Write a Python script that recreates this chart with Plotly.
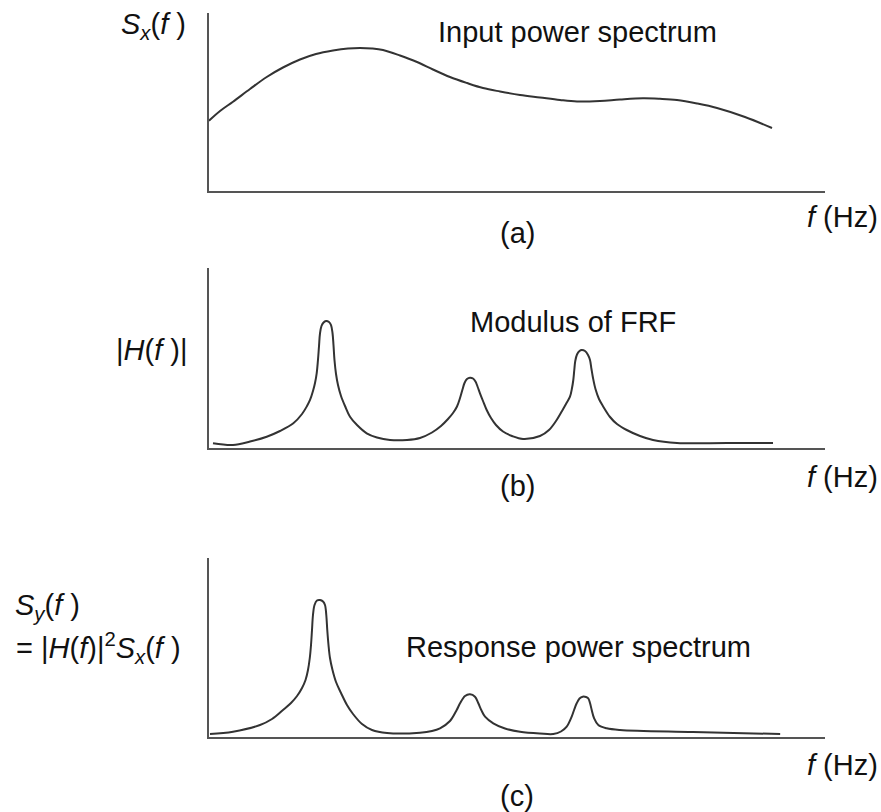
import plotly.graph_objects as go

W, H = 881, 812

# ---------------- data (arbitrary units, 0-100) ----------------
# (a) input power spectrum S_x(f)
f_input = [0, 1.79, 3.90, 6.66, 9.37, 12.01, 14.77, 17.37, 20.13, 22.56, 24.51, 26.46, 28.25, 31.01,
           33.77, 36.36, 39.12, 41.88, 44.48, 47.24, 50.49, 53.73, 56.98, 59.74, 63.47, 66.72, 70.45,
           73.21, 75.97, 79.22, 82.47, 87.01, 91.40]
s_input = [39.49, 44.94, 50.17, 57.30, 64.04, 69.38, 73.88, 76.97, 78.93, 80.06, 80.34, 80.06, 79.21, 76.12,
           72.47, 68.26, 64.04, 60.67, 57.87, 55.90, 53.93, 52.53, 51.12, 50.28, 50.56, 51.40, 52.08,
           51.80, 51.12, 49.16, 46.63, 41.57, 35.39]

# (b) modulus of FRF |H(f)|
f_frf = [0.65, 3.90, 6.66, 9.37, 11.53, 13.69, 15.10, 15.91, 16.40, 16.88, 17.21, 17.48, 17.69, 17.86,
         18.02, 18.26, 18.56, 18.99, 19.48, 19.81, 20.05, 20.21, 20.37, 20.62, 20.94, 21.43, 22.08,
         22.89, 24.03, 25.60, 27.27, 29.38, 32.14,
         34.25, 36.20, 37.66, 38.80, 39.61, 40.26, 40.75, 41.15, 41.48, 41.88, 42.37, 42.86, 43.26,
         43.59, 43.99, 44.48, 45.08, 45.78, 46.59, 47.73, 49.19, 50.97,
         53.73, 55.19, 56.44, 57.31, 57.95, 58.60, 58.93, 59.14, 59.30, 59.46, 59.74, 60.15, 60.50,
         61.04, 61.53, 61.85, 62.09, 62.34, 62.74, 63.31, 64.01, 65.10, 66.23, 67.81, 69.97, 72.08,
         75.97, 84.09, 91.56]
h_frf = [2.61, 1.67, 3.61, 6.28, 9.44, 13.72, 18.89, 23.33, 26.67, 31.67, 36.11, 41.50, 48.89, 56.67,
         63.72, 67.78, 69.61, 70.56, 70.00, 68.33, 63.89, 57.22, 48.89, 41.11, 35.00, 28.89, 23.33,
         17.39, 12.78, 8.17, 5.83, 4.44, 4.44,
         5.56, 8.61, 12.22, 16.11, 19.44, 23.06, 27.78, 32.50, 36.11, 38.33, 39.06, 38.61, 36.94,
         34.17, 30.39, 26.11, 21.11, 16.67, 12.78, 9.17, 6.67, 5.00,
         6.67, 10.00, 15.56, 20.56, 24.44, 28.50, 33.33, 37.78, 43.33, 48.33, 51.94, 53.89, 54.44,
         53.89, 51.67, 48.89, 43.89, 38.89, 32.78, 27.22, 22.94, 17.22, 13.33, 10.00, 6.67, 4.44,
         2.78, 2.78, 2.78]

# (c) response power spectrum S_y(f)
f_resp = [0.16, 3.90, 8.28, 10.23, 12.01, 13.31, 14.29, 15.10, 15.67, 16.07, 16.36, 16.56, 16.72,
          16.88, 17.13, 17.53, 18.02, 18.51, 18.83, 19.04, 19.20, 19.40, 19.64, 20.05, 20.62, 21.43,
          22.40, 23.38, 24.84, 26.46, 28.90,
          34.25, 36.20, 37.50, 39.12, 40.21, 40.75, 41.56, 42.37, 43.18, 43.72, 44.24, 44.81, 46.15,
          48.05, 50.49, 53.73, 55.89,
          57.14, 58.07, 58.88, 59.29, 59.69, 60.15, 60.67, 61.20, 61.57, 61.85, 62.13, 62.50, 63.20,
          64.56, 66.72, 78.57, 92.72]
s_resp = [1.40, 2.69, 6.44, 9.80, 14.85, 18.77, 22.69, 27.17, 31.65, 37.25, 43.98, 51.26, 59.66,
          68.07, 73.67, 76.19, 76.47, 75.63, 73.67, 68.07, 59.66, 51.26, 43.98, 37.25, 30.53, 24.37,
          17.65, 12.61, 7.00, 3.64, 1.96,
          2.13, 3.08, 4.59, 8.68, 14.85, 18.60, 22.69, 23.64, 22.30, 18.60, 14.57, 11.09, 7.39,
          4.48, 2.69, 1.68, 1.40,
          2.80, 5.49, 11.09, 15.13, 18.60, 21.29, 22.30, 22.13, 21.40, 18.77, 14.85, 10.36, 6.44,
          4.59, 3.64, 2.52, 1.40]

# ---------------- layout helpers ----------------
def px(x):
    return x / W

def py(y):
    return 1 - y / H

FONT = "Liberation Sans, Arial, Helvetica, sans-serif"
LINE = "#333333"
AXIS = "#555555"

fig = go.Figure()
for i, (xs, ys) in enumerate([(f_input, s_input), (f_frf, h_frf), (f_resp, s_resp)]):
    suffix = "" if i == 0 else str(i + 1)
    fig.add_trace(go.Scatter(x=xs, y=ys, mode="lines",
                             line=dict(color=LINE, width=2, shape="spline", smoothing=1.0,
                                       simplify=False),
                             xaxis="x" + suffix, yaxis="y" + suffix, showlegend=False,
                             hoverinfo="skip"))

xdom = [px(209), px(825)]
ydoms = [[py(191), py(13)], [py(448), py(268)], [py(736.5), py(558)]]

axis_common = dict(showgrid=False, zeroline=False, showticklabels=False, ticks="",
                   showline=True, linecolor=AXIS, linewidth=2, range=[0, 100], fixedrange=True)

lay = {}
for i in range(3):
    suffix = "" if i == 0 else str(i + 1)
    lay["xaxis" + suffix] = dict(axis_common, domain=xdom, anchor="y" + suffix)
    lay["yaxis" + suffix] = dict(axis_common, domain=ydoms[i], anchor="x" + suffix)

fig.update_layout(**lay)

ann = [
    ("Input power spectrum", 577, 32, "center"),
    ("<i>S<sub>x</sub></i>(<i>f</i> )", 153, 26, "center"),
    ("<i>f</i> (Hz)", 842, 217, "center"),
    ("(a)", 517, 233, "center"),
    ("|<i>H</i>(<i>f</i> )|", 151, 350, "center"),
    ("Modulus of FRF", 573, 322, "center"),
    ("<i>f</i> (Hz)", 842, 477, "center"),
    ("(b)", 517, 486, "center"),
    ("<i>S<sub>y</sub></i>(<i>f</i> )", 13, 607, "left"),
    ("= |<i>H</i>(<i>f</i>)|<sup>2</sup><i>S<sub>x</sub></i>(<i>f</i> )", 14, 648, "left"),
    ("Response power spectrum", 578, 647, "center"),
    ("<i>f</i> (Hz)", 842, 765, "center"),
    ("(c)", 517, 796, "center"),
]
annotations = []
for text, x, y, anc in ann:
    annotations.append(dict(text=text, x=px(x), y=py(y), xref="paper", yref="paper",
                            xanchor=anc, yanchor="middle", showarrow=False,
                            font=dict(family=FONT, size=29, color="#111111")))

fig.update_layout(width=W, height=H, margin=dict(l=0, r=0, t=0, b=0),
                  paper_bgcolor="white", plot_bgcolor="white",
                  annotations=annotations, showlegend=False)

fig.write_html("out.html", config={"displayModeBar": False})
